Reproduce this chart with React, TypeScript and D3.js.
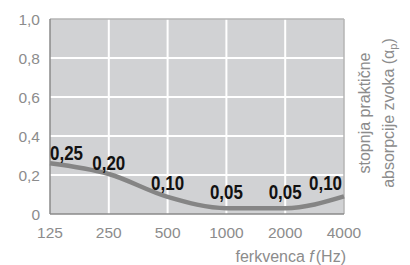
import * as d3 from "d3";

const categories = ["125", "250", "500", "1000", "2000", "4000"];
// where the drawn curve actually sits
const curveValues = [0.26, 0.205, 0.088, 0.03, 0.03, 0.09];
// the printed labels
const labelValues = [0.25, 0.2, 0.1, 0.05, 0.05, 0.1];
const yTicks = [0, 0.2, 0.4, 0.6, 0.8, 1.0];

const width = 410;
const height = 265;
const left = 50;
const right = 344;
const top = 19;
const bottom = 214;

const font = "'Liberation Sans', Arial, sans-serif";
const grey = "#8c8c8c";

const comma = (s: string) => s.replace(".", ",");
const tickFmt = (v: number) => (v === 0 ? "0" : comma(d3.format(".1f")(v)));
const labelFmt = (v: number) => comma(d3.format(".2f")(v));

export default function App() {
  const x = d3.scalePoint<string>().domain(categories).range([left, right]);
  const y = d3.scaleLinear().domain([0, 1]).range([bottom, top]);

  const line = d3
    .line<number>()
    .x((_, i) => x(categories[i]) as number)
    .y((d) => y(d))
    .curve(d3.curveMonotoneX);

  return (
    <svg
      width={width}
      height={height}
      style={{ position: "absolute", left: 0, top: 0 }}
      fontFamily={font}
    >
      <rect x={left} y={top} width={right - left} height={bottom - top} fill="#d1d2d4" />
      {/* grid */}
      {yTicks.slice(1, -1).map((t) => (
        <line key={"h" + t} x1={left} x2={right} y1={y(t)} y2={y(t)} stroke="#fff" strokeWidth={2} />
      ))}
      {categories.slice(1, -1).map((c) => (
        <line key={"v" + c} x1={x(c)} x2={x(c)} y1={top} y2={bottom} stroke="#fff" strokeWidth={2} />
      ))}
      {/* frame */}
      <line x1={left} x2={right} y1={top} y2={top} stroke="#b4b4b4" strokeWidth={1.5} />
      <line x1={right} x2={right} y1={top} y2={bottom} stroke="#b4b4b4" strokeWidth={1.5} />
      <line x1={left} x2={left} y1={top} y2={bottom} stroke="#8a8a8a" strokeWidth={1.5} />
      <line x1={left} x2={right} y1={bottom} y2={bottom} stroke="#8a8a8a" strokeWidth={1.5} />

      <path d={line(curveValues) ?? ""} fill="none" stroke="#858585" strokeWidth={4.5} />

      {/* y ticks */}
      {yTicks.map((t) => (
        <text key={"yt" + t} x={40} y={y(t)} dy="0.36em" textAnchor="end" fontSize={15.5} fill={grey}>
          {tickFmt(t)}
        </text>
      ))}
      {/* x ticks */}
      {categories.map((c) => (
        <text key={"xt" + c} x={x(c)} y={238} textAnchor="middle" fontSize={15.5} fill={grey}>
          {c}
        </text>
      ))}
      <text x={346} y={262} textAnchor="end" fontSize={16} fill={grey}>
        ferkvenca <tspan fontStyle="italic">f</tspan>
        <tspan dx="2">(Hz)</tspan>
      </text>

      {/* value labels */}
      {labelValues.map((v, i) => {
        const last = labelValues.length - 1;
        const anchor = i === 0 ? "start" : i === last ? "end" : "middle";
        const px = (x(categories[i]) as number) + (i === last ? -2 : 0);
        return (
          <text
            key={"lv" + i}
            x={px}
            y={y(v) - 5}
            textAnchor={anchor}
            fontSize={19.5}
            fontWeight="bold"
            fill="#111"
            textLength={33}
            lengthAdjust="spacingAndGlyphs"
          >
            {labelFmt(v)}
          </text>
        );
      })}

      {/* right axis title */}
      <g transform="translate(370,113) rotate(-90)">
        <text x={0} y={0} textAnchor="middle" fontSize={16} fill={grey}>
          stopnja praktične
        </text>
        <text x={0} y={24} textAnchor="middle" fontSize={16} fill={grey}>
          absorpcije zvoka (α<tspan fontSize={11} dy="3">p</tspan>
          <tspan dy="-3">)</tspan>
        </text>
      </g>
    </svg>
  );
}
